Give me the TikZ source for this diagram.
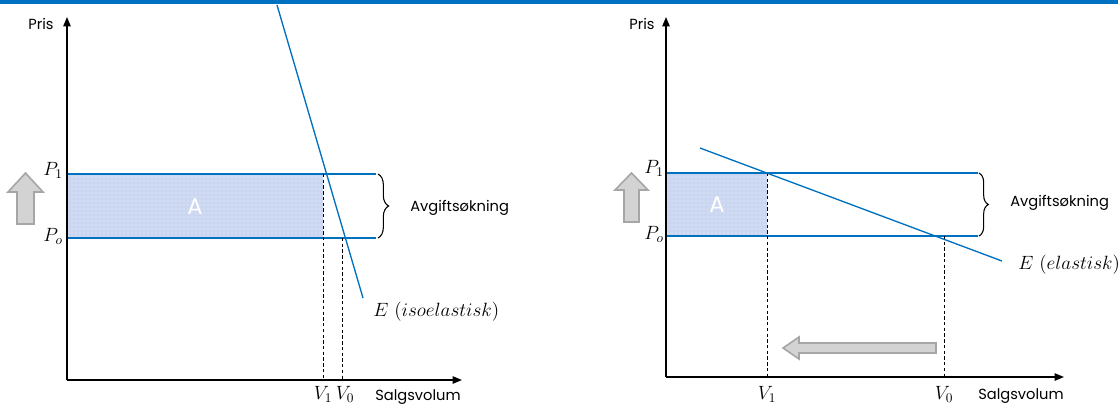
\documentclass[tikz,border=0pt]{standalone}
\usepackage{fontspec}
\newfontfamily\labelfont{Poppins}
\usetikzlibrary{arrows.meta,decorations.pathreplacing,patterns}
\definecolor{eblue}{HTML}{0070C0}
\definecolor{areafill}{HTML}{CBD6F0}
\definecolor{arrowfill}{HTML}{D3D3D3}
\definecolor{arrowedge}{HTML}{A6A6A6}
\begin{document}
\begin{tikzpicture}[x=0.75pt,y=-0.75pt,
  axis/.style={line width=1.1pt,-{Triangle[length=7pt,width=5.5pt]}},
  pline/.style={draw=eblue,line width=1pt},
  demand/.style={draw=eblue,line width=1pt},
  guide/.style={line width=0.6pt,dash pattern=on 2.5pt off 1.8pt},
  area/.style={fill=areafill},
  dotted area/.style={pattern=dots,pattern color=white!70!areafill},
  bracket/.style={decorate,decoration={brace,amplitude=8pt},line width=0.8pt},
  shift arrow/.style={fill=arrowfill,draw=arrowedge,line width=1.2pt},
  lab/.style={font=\labelfont\fontsize{11}{13}\selectfont,inner sep=0},
  mlab/.style={font=\fontsize{14}{16}\selectfont,inner sep=0},
  alab/.style={font=\labelfont\fontsize{17}{19}\selectfont,text=white,inner sep=0}]
\useasboundingbox (0,0) rectangle (1118,405);
\fill[eblue] (0,0) rectangle (1118,4);

% ---------- left panel: inelastic demand ----------
\coordinate (O1) at (67,380);
\coordinate (Y1) at (67,17);
\coordinate (X1) at (462,380);
\fill[area] (68,174) rectangle (323,238);
\fill[dotted area] (68,174) rectangle (323,238);
\coordinate (L1a) at (67,174);  \coordinate (L1b) at (376,174);
\coordinate (L0a) at (67,238);  \coordinate (L0b) at (376,238);
\draw[pline] (L1a) -- (L1b);
\draw[pline] (L0a) -- (L0b);
\coordinate (V1top) at (323,174); \coordinate (V1bot) at (323,380);
\coordinate (V0top) at (342,238); \coordinate (V0bot) at (342,380);
\draw[guide] (V1top) -- (V1bot);
\draw[guide] (V0top) -- (V0bot);
\coordinate (D1a) at (277,5); \coordinate (D1b) at (363,298);
\draw[demand] (D1a) -- (D1b);
\draw[axis] (O1) -- (Y1);
\draw[axis] (O1) -- (X1);
\draw[bracket] (378,174) -- (378,238);
\draw[shift arrow] (17,224) -- (17,192) -- (8,192) -- (25.5,173) -- (43,192) -- (34,192) -- (34,224) -- cycle;

\node[lab] (pris1) at (41,24) {Pris};
\node[mlab,anchor=east] (p1a) at (63,170) {$P_1$};
\node[mlab,anchor=east] (p0a) at (63,236) {$P_o$};
\node[alab] (areaA1) at (195,207) {A};
\node[lab,anchor=west] (avg1) at (410,208) {Avgiftsøkning};
\node[mlab,anchor=west] (e1) at (373,312) {$E\ (isoelastisk)$};
\node[mlab] (v1a) at (323,394) {$V_1$};
\node[mlab] (v0a) at (345,394) {$V_0$};
\node[lab,anchor=south west] (sv1) at (375,405) {Salgsvolum};

% ---------- right panel: elastic demand ----------
\coordinate (O2) at (666,377);
\coordinate (Y2) at (666,17);
\coordinate (X2) at (1064,377);
\fill[area] (667,173) rectangle (767,236);
\fill[dotted area] (667,173) rectangle (767,236);
\coordinate (R1a) at (666,173);  \coordinate (R1b) at (978,173);
\coordinate (R0a) at (666,236);  \coordinate (R0b) at (978,236);
\draw[pline] (R1a) -- (R1b);
\draw[pline] (R0a) -- (R0b);
\coordinate (W1top) at (767,173); \coordinate (W1bot) at (767,377);
\coordinate (W0top) at (944,236); \coordinate (W0bot) at (944,377);
\draw[guide] (W1top) -- (W1bot);
\draw[guide] (W0top) -- (W0bot);
\coordinate (D2a) at (700,148); \coordinate (D2b) at (1002,261);
\draw[demand] (D2a) -- (D2b);
\draw[axis] (O2) -- (Y2);
\draw[axis] (O2) -- (X2);
\draw[bracket,decoration={amplitude=7pt}] (979,173) -- (979,236);
\draw[shift arrow] (624,222) -- (624,190) -- (615,190) -- (631.5,173) -- (648,190) -- (639,190) -- (639,222) -- cycle;
\draw[shift arrow] (936,343) -- (799,343) -- (799,337) -- (783,348) -- (799,359) -- (799,353) -- (936,353) -- cycle;

\node[lab] (pris2) at (642,24) {Pris};
\node[mlab,anchor=east] (p1b) at (664,168) {$P_1$};
\node[mlab,anchor=east] (p0b) at (664,234) {$P_o$};
\node[alab] (areaA2) at (717,205) {A};
\node[lab,anchor=west] (avg2) at (1010,203) {Avgiftsøkning};
\node[mlab,anchor=west] (e2) at (1018,265) {$E\ (elastisk)$};
\node[mlab] (v1b) at (767,394) {$V_1$};
\node[mlab] (v0b) at (944,394) {$V_0$};
\node[lab,anchor=south west] (sv2) at (978,404) {Salgsvolum};
\end{tikzpicture}
\end{document}
